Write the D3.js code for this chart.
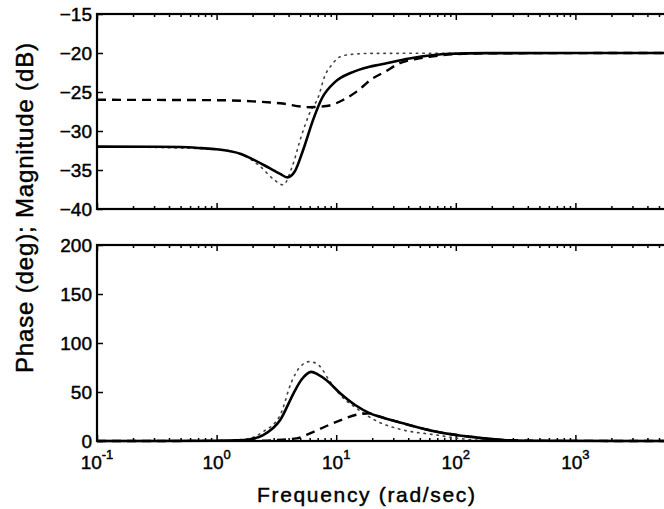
<!DOCTYPE html>
<html>
<head>
<meta charset="utf-8">
<script src="https://cdn.jsdelivr.net/npm/d3@7"></script>
<style>
  body { margin: 0; background: #fff; }
  svg { display: block; font-family: "Liberation Sans", Arial, Helvetica, sans-serif; }
  .tick text { fill: #000; stroke: #000; stroke-width: 0.45; }
  .lbl { fill: #000; stroke: #000; stroke-width: 0.45; }
</style>
</head>
<body>
<svg id="bode" width="664" height="509"></svg>
<script>
// Bode diagram: magnitude (top) and phase (bottom), three responses

// [frequency rad/s, dB]
var magSolid = [[0.1, -32], [0.3, -32.02], [0.5, -32.05], [0.75, -32.2], [1.0, -32.35], [1.3, -32.6],
    [1.6, -32.95], [1.9, -33.45], [2.8, -34.8], [3.4, -35.5], [3.9, -35.95], [4.5, -35.2], [5.3, -32.4],
    [6.4, -28.6], [7.6, -25.8], [9.8, -23.7], [13, -22.6], [19, -21.75], [23, -21.5], [41, -20.7],
    [89, -20.1], [180, -20.02], [1000, -20], [10000, -20]];
var magDashed = [[0.1, -26], [1, -26.05], [2, -26.2], [3.4, -26.45], [6, -26.95], [8.3, -26.8],
    [11.5, -26], [14.8, -24.95], [20, -23.3], [25.6, -22.4], [34, -21.3], [45, -20.8], [60, -20.5],
    [100, -20.15], [200, -20.03], [10000, -20]];
var magDotted = [[0.1, -32], [1, -32.35], [1.6, -33.0], [2.3, -34.5], [3.0, -36.2], [3.6, -36.9],
    [4.3, -34.5], [5.1, -30.7], [6.0, -27.7], [7.1, -25.6], [8.0, -23.0], [9.2, -21.5], [10.7, -20.5],
    [13, -20.2], [20, -20.05], [10000, -20]];

// [frequency rad/s, deg]
var phaseSolid = [[0.1, 0], [1, 0.2], [1.5, 0.6], [1.9, 1.7], [2.45, 6], [3.4, 21.4], [4.4, 48.7],
    [5.1, 62.2], [6.2, 70.5], [7.0, 68], [8.3, 62], [10.8, 48.7], [14.4, 36.7], [19.2, 28.2],
    [23.2, 24.8], [36.4, 18], [69, 9.5], [131, 4.4], [250, 1], [500, 0.2], [10000, 0]];
var phaseDashed = [[0.1, 0], [2, 0.2], [3, 0.8], [4.67, 2.7], [6.24, 8.5], [8.3, 15.3], [11.5, 22.4],
    [15.8, 27.5], [19.2, 28.2], [23.2, 24.8], [36.4, 18], [69, 9.5], [131, 4.4], [250, 1], [500, 0.2],
    [10000, 0]];
var phaseDotted = [[0.1, 0], [1, 0.3], [1.8, 2], [2.45, 9.5], [3.4, 26.5], [4.24, 60.5], [5.0, 75.8],
    [6.0, 81], [7.1, 77.6], [8.9, 60.5], [10.8, 47], [14.8, 33.4], [22.5, 19.5], [36.4, 11.2],
    [69, 6.1], [100, 3], [200, 0.5], [10000, 0]];

var freqDomain = [0.1, 10000];
var magTicks = [-40, -35, -30, -25, -20, -15];
var phaseTicks = [0, 50, 100, 150, 200];
var decadeExps = [-1, 0, 1, 2, 3, 4];
var labelExps = [-1, 0, 1, 2, 3];   // 10^4 sits past the right edge of the picture

var svg = d3.select("#bode");
svg.append('rect').attr('width', 664).attr('height', 509).attr('fill', '#fff');

var x = d3.scaleLog().domain(freqDomain).range([97, 695]);
var yMag = d3.scaleLinear().domain([-40, -15]).range([209, 14]);
var yPh = d3.scaleLinear().domain([0, 200]).range([441, 245]);

var majors = decadeExps.map(function (e) { return Math.pow(10, e); });
var minors = x.ticks().filter(function (t) {
    var l = Math.log10(t);
    return Math.abs(l - Math.round(l)) > 1e-6;
});

function drawPanel(y, ticks, series) {
    var top = y.range()[1], bottom = y.range()[0];
    var g = svg.append('g');

    // y axis, ticks pointing inward
    var ya = g.append('g')
        .attr('transform', "translate(" + x.range()[0] + ",0)")
        .call(d3.axisLeft(y).tickValues(ticks).tickSize(-6).tickPadding(5));
    ya.select('.domain').remove();
    ya.selectAll('text').attr('font-size', 19).attr('font-family', null);

    // x ticks on bottom and top edges
    [[bottom, d3.axisBottom], [top, d3.axisTop]].forEach(function (p) {
        var a1 = g.append('g').attr('transform', "translate(0," + p[0] + ")")
            .call(p[1](x).tickValues(majors).tickSize(-6).tickFormat(""));
        var a2 = g.append('g').attr('transform', "translate(0," + p[0] + ")")
            .call(p[1](x).tickValues(minors).tickSize(-3).tickFormat(""));
        a1.select('.domain').remove();
        a2.select('.domain').remove();
    });
    g.selectAll('line').attr('stroke-width', 1.5);

    var line = d3.line()
        .x(function (d) { return x(d[0]); })
        .y(function (d) { return y(d[1]); })
        .curve(d3.curveMonotoneX);

    g.append('path').datum(series.dotted)
        .attr('d', line).attr('fill', 'none')
        .attr('stroke', '#444').attr('stroke-width', 1.6)
        .attr('stroke-dasharray', "1.5,5").attr('stroke-linecap', 'round');
    g.append('path').datum(series.dashed)
        .attr('d', line).attr('fill', 'none')
        .attr('stroke', '#000').attr('stroke-width', 2.4)
        .attr('stroke-dasharray', "9,6");
    g.append('path').datum(series.solid)
        .attr('d', line).attr('fill', 'none')
        .attr('stroke', '#000').attr('stroke-width', 2.6);

    // frame
    g.append('rect')
        .attr('x', x.range()[0]).attr('y', top)
        .attr('width', x.range()[1] - x.range()[0]).attr('height', bottom - top)
        .attr('fill', 'none').attr('stroke', '#000').attr('stroke-width', 2.2);
}

drawPanel(yMag, magTicks, { solid: magSolid, dashed: magDashed, dotted: magDotted });
drawPanel(yPh, phaseTicks, { solid: phaseSolid, dashed: phaseDashed, dotted: phaseDotted });

// decade labels 10^n under the phase plot
labelExps.forEach(function (e) {
    var t = svg.append('text').attr('class', 'lbl')
        .attr('x', x(Math.pow(10, e))).attr('y', 469)
        .attr('text-anchor', 'middle').attr('font-size', 19);
    t.append('tspan').text("10");
    t.append('tspan').attr('dy', -10).attr('font-size', 13).text(e < 0 ? "-" + (-e) : String(e));
});

svg.append('text').attr('class', 'lbl')
    .attr('x', 366).attr('y', 502)
    .attr('text-anchor', 'middle').attr('font-size', 21)
    .attr('textLength', 218).attr('lengthAdjust', 'spacing')
    .text("Frequency (rad/sec)");

svg.append('text').attr('class', 'lbl')
    .attr('transform', "translate(33,208) rotate(-90)")
    .attr('text-anchor', 'middle').attr('font-size', 24)
    .attr('textLength', 330).attr('lengthAdjust', 'spacing')
    .text("Phase (deg); Magnitude (dB)");
</script>
</body>
</html>
